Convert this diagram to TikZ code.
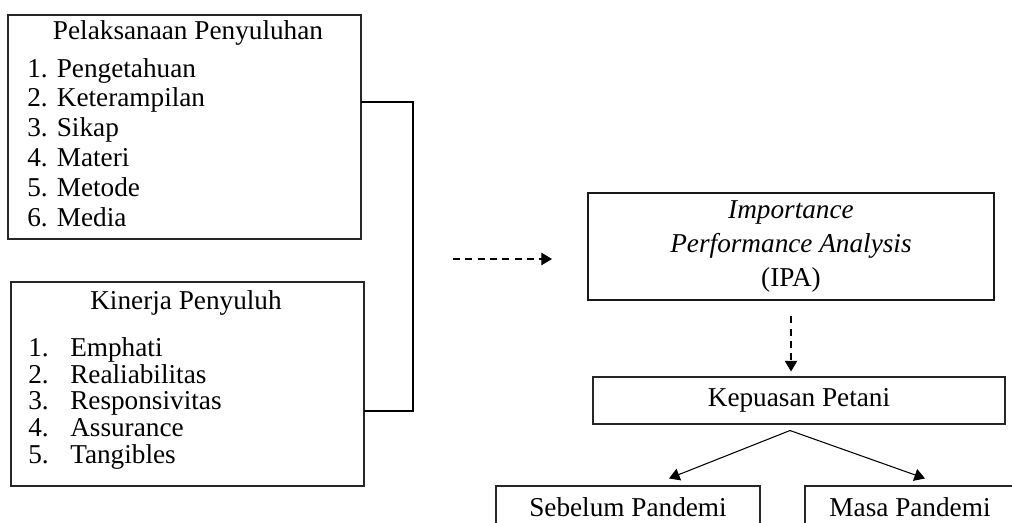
\documentclass[tikz,border=0pt]{standalone}
\usepackage{fontspec}
\setmainfont{Liberation Serif}
\usetikzlibrary{arrows.meta}

\begin{document}
\begin{tikzpicture}[
    font=\fontsize{15.5}{17}\selectfont,
    box/.style = {draw=black!85, line width=0.6pt, inner sep=0pt},
    ipabox/.style = {draw=black!90, line width=1.6pt, inner sep=0pt},
    txt/.style = {inner sep=0pt},
    tip/.style = {-{Triangle[width=7pt, length=6pt]}, line width=0.6pt},
    dashline/.style = {dash pattern=on 4pt off 3pt}
    ]
    \useasboundingbox (0,0) rectangle (20.24,10.46);

    % Pelaksanaan box
    \node[box, minimum width=7.06cm, minimum height=4.48cm] (pel) at (3.69, 7.92) {};
    \node[txt] (pel title) at (3.76, 9.80) {Pelaksanaan Penyuluhan};
    \node[txt, align=left, anchor=west] (pel list) at (0.54, 7.61)
        {1. Pengetahuan\\2. Keterampilan\\3. Sikap\\4. Materi\\5. Metode\\6. Media};

    % Kinerja box
    \node[box, minimum width=7.06cm, minimum height=4.08cm] (kin) at (3.75, 2.78) {};
    \node[txt] (kin title) at (3.72, 4.40) {Kinerja Penyuluh};
    \node[txt, anchor=west, font=\fontsize{15.5}{15}\selectfont] (kin list) at (0.56, 2.37)
        {\begin{tabular}{@{}l@{\hspace{0.43cm}}l@{}}
            1. & Emphati\\
            2. & Realiabilitas\\
            3. & Responsivitas\\
            4. & Assurance\\
            5. & Tangibles
        \end{tabular}};

    % Bracket joining both boxes
    \coordinate (pel out) at (7.22, 8.42);
    \coordinate (kin out) at (7.28, 2.24);
    \draw[line width=0.6pt] (pel out) -- ++(1.04, 0) |- (kin out);

    % IPA
    \coordinate (dash start) at (9.06, 5.28);
    \coordinate (dash end)   at (11.04, 5.28);
    \draw[tip, dashline] (dash start) -- (dash end);
    \node[ipabox, minimum width=8.12cm, minimum height=2.14cm, align=center,
          font=\fontsize{15.5}{19.5}\selectfont] (ipa) at (15.82, 5.53)
        {\textit{Importance}\\\textit{Performance Analysis}\\(IPA)};

    % Kepuasan
    \node[box, minimum width=8.24cm, minimum height=0.94cm] (kep) at (15.98, 2.45) {Kepuasan Petani};
    \draw[tip, dashline, shorten <=0.3cm, shorten >=0.1cm] (ipa.south) -- (ipa.south |- kep.north);

    % Before / during pandemic
    \node[box, minimum width=5.28cm, minimum height=0.84cm] (seb)  at (12.56, 0.32) {Sebelum Pandemi};
    \node[box, minimum width=4.20cm, minimum height=0.84cm] (masa) at (18.20, 0.32) {Masa Pandemi};
    \draw[tip] ([xshift=-0.18cm, yshift=-0.12cm]kep.south) -- ([xshift=0.82cm, yshift=0.14cm]seb.north);
    \draw[tip] ([xshift=-0.18cm, yshift=-0.12cm]kep.south) -- ([xshift=0.30cm, yshift=0.14cm]masa.north);
\end{tikzpicture}
\end{document}
